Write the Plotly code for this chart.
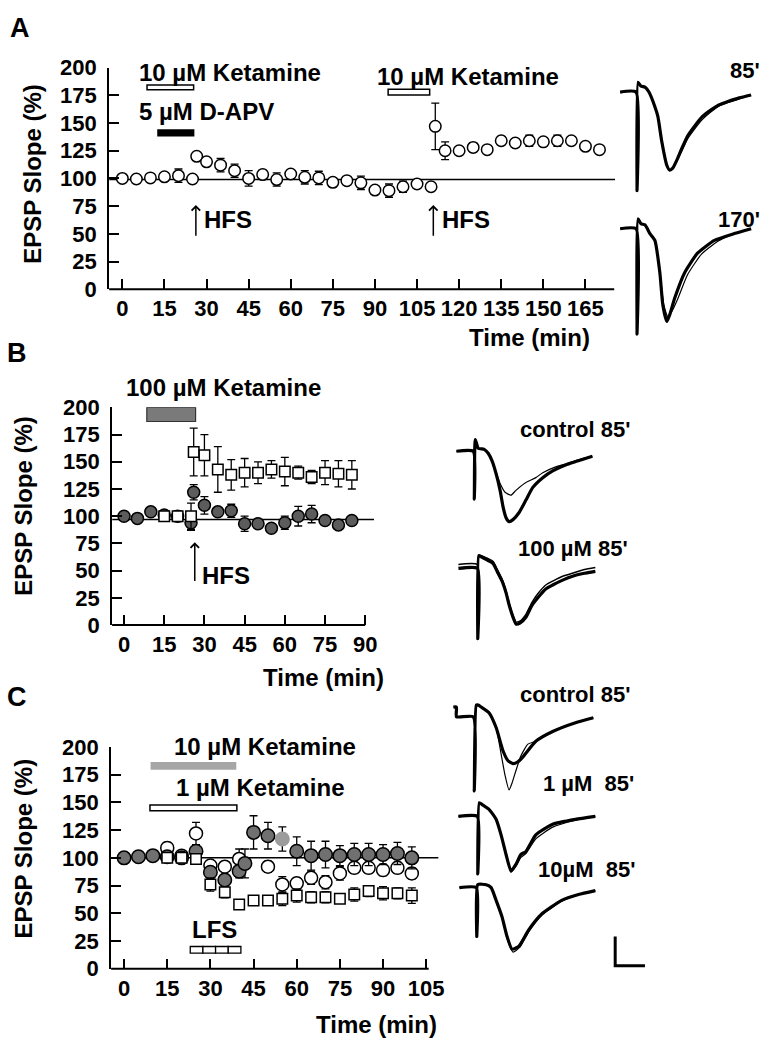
import plotly.graph_objects as go

W, H = 774, 1050
FONT = "Liberation Sans, Arial, sans-serif"

# ---------------- data: panel A ----------------
A_time = [0, 5, 10, 15, 20, 25, 26.5, 30, 35, 40, 45, 50, 55, 60, 65, 70, 75, 80, 85, 90, 95, 100, 105, 110,
          111.5, 115, 120, 125, 130, 135, 140, 145, 150, 155, 160, 165, 170]
A_epsp = [100, 99.5, 100.5, 101.5, 102.5, 99.5, 120, 115, 112, 107, 100, 103.5, 99, 104, 101, 100.5, 96.5, 98, 96,
          89.5, 89, 92.5, 95, 92.5, 147, 125, 125, 128, 126, 134, 132, 134, 133, 134, 134, 129, 126]
A_err = [1, 1, 1, 1, 6, 1, 2, 2, 6, 6, 7, 4, 6, 2, 6, 6, 4, 2, 6, 2, 6, 5, 2, 2,
         21, 8, 2, 4, 2, 4, 2, 5, 2, 5, 2, 2, 2]
A_baseline = 99

# ---------------- data: panel B ----------------
B_ket_time = [0, 5, 10, 15, 20, 25, 26, 30, 35, 40, 45, 50, 55, 60, 65, 70, 75, 80, 85]
B_ket = [100, 98, 104, 101, 100, 94, 122, 110, 104, 105, 93, 93, 89, 94, 100, 102, 96, 92, 96]
B_ket_err = [2, 2, 2, 2, 2, 7, 7, 8, 2, 6, 7, 2, 2, 6, 9, 8, 2, 2, 2]
B_ctl_time = [15, 20, 25, 26, 30, 35, 40, 45, 50, 55, 60, 65, 70, 75, 80, 85]
B_ctl = [100, 100, 100, 159, 156, 143, 138, 140, 140, 143, 141, 140, 136, 140, 139, 138]
B_ctl_err = [3, 5, 12, 22, 19, 21, 14, 13, 10, 8, 13, 6, 6, 11, 12, 13]
B_baseline = 97

# ---------------- data: panel C ----------------
C_k10_time = [0, 5, 10, 15, 20, 25, 30, 35, 40, 42, 45, 50, 55, 60, 65, 70, 75, 80, 85, 90, 95, 100]
C_k10 = [100, 101, 102, 101, 100, 106, 87, 80, 88, 95, 123, 120, 117, 106, 102, 103, 102, 103, 103, 103, 104, 100]
C_k10_err = [1, 1, 1, 1, 1, 4, 5, 5, 6, 13, 15, 12, 11, 13, 13, 12, 9, 10, 10, 9, 10, 10]
C_k1_time = [15, 20, 25, 30, 35, 40, 50, 55, 60, 65, 70, 75, 80, 85, 90, 95, 100]
C_k1 = [109, 102, 122, 93, 92, 99, 92, 76, 77, 82, 78, 86, 91, 91, 89, 91, 86]
C_k1_err = [5, 2, 10, 3, 3, 9, 5, 7, 5, 6, 6, 6, 5, 5, 5, 5, 5]
C_ctl_time = [15, 20, 25, 30, 35, 40, 45, 50, 55, 60, 65, 70, 75, 80, 85, 90, 95, 100]
C_ctl = [100, 100, 99, 76, 69, 58, 61.5, 61.5, 63, 66, 64.5, 64.5, 63, 67, 70, 68, 68, 66]
C_ctl_err = [3, 3, 4, 6, 5, 4, 2, 2, 6, 6, 5, 5, 4, 6, 5, 6, 5, 7]
C_baseline = 100

x_ticks_A = list(range(0, 166, 15))
x_ticks_B = list(range(0, 91, 15))
x_ticks_C = list(range(0, 106, 15))
y_ticks = list(range(0, 201, 25))

# ---------------- waveform data (arbitrary units) ----------------
wA85_t = [0, 16, 17, 18, 21, 25, 29, 35, 38, 42, 47, 50, 53, 57, 62, 68, 75, 83, 92, 100, 108, 120, 132]
wA85_thick = [0, 0, -101, 10, 6, 5, 0, -15, -25, -51, -75, -80, -78, -70, -58, -45, -35, -25, -18, -13, -10, -6, -3]
wA85_thin = [0, 0, -101, 10, 6, 5, 0, -15, -25, -51, -75, -80, -78, -71, -61, -48, -38, -28, -20, -14, -11, -7, -3]

wA170_t1 = [0, 16, 17, 18, 21, 25, 30, 35, 40, 43, 47, 50, 55, 65, 78, 95, 115, 132]
wA170_thick = [0, 0, -108, 10, 5, 4, -5, -12, -45, -78, -95, -88, -71, -45, -25, -12, -5, 0]
wA170_t2 = [0, 16, 17, 18, 21, 25, 30, 35, 40, 44, 48, 52, 58, 68, 82, 98, 115, 132]
wA170_thin = [0, 0, -108, 10, 5, 4, -5, -12, -45, -78, -90, -85, -72, -47, -26, -13, -5, 0]

wBc_t1 = [0, 17, 18, 19, 22, 28, 32, 36, 40, 44, 47, 50, 53, 57, 63, 70, 77, 87, 97, 110, 122, 137]
wBc_thick = [0, 0, -49, 12, 3, 2, -2, -10, -23, -40, -57, -68, -72, -70, -63, -50, -37, -27, -20, -14, -10, -5]
wBc_t2 = [0, 17, 18, 19, 22, 28, 32, 36, 40, 44, 49, 55, 60, 70, 80, 87, 100, 110, 122, 137]
wBc_thin = [0, 0, -49, 12, 3, 2, -2, -10, -22, -33, -42, -45, -40, -32, -27, -22, -16, -13, -9, -5]

wB100_t = [0, 19, 19.5, 20.5, 23, 30, 35, 40, 44, 48, 51, 55, 58, 62, 68, 74, 80, 88, 95, 105, 115, 127, 138]
wB100_thick = [0, 0, -72, 13, 12, 8, 5, -5, -13, -25, -37, -50, -57, -56, -50, -38, -30, -21, -17, -12, -8, -5, -3]
wB100_thin = [4, 4, -72, 14, 13, 10, 7, -3, -11, -23, -35, -48, -55, -54, -47, -35, -26, -17, -13, -8, -5, -1, 1]

wCc_t1 = [-3, 0, 0, 17, 18, 20, 22, 25, 33, 40, 47, 52, 57, 62, 67, 80, 97, 120, 138]
wCc_thick = [10, 10, 0, 0, -76, 12, 12, 10, 4, -11, -35, -45, -48, -46, -41, -25, -15, -6, -1]
wCc_t2 = [-3, 0, 0, 17, 18, 20, 22, 25, 33, 40, 45, 49, 53, 56, 60, 65, 72, 80, 97, 120, 138]
wCc_thin = [10, 10, 0, 0, -76, 12, 12, 10, 4, -11, -38, -60, -75, -68, -55, -40, -28, -25, -15, -6, -1]

wC1_t = [0, 19, 19.5, 21, 24, 31, 38, 43, 48, 53, 58, 63, 68, 78, 95, 118, 138]
wC1_thick = [0, 0, -59, 14, 12, 7, -3, -19, -39, -56, -49, -39, -36, -19, -8, -3, 0]
wC1_thin = [0, 0, -59, 14, 12, 7, -3, -19, -39, -57, -51, -42, -38, -23, -11, -4, 0]

wC10_t1 = [0, 17, 17.5, 18.5, 27, 32, 37, 43, 48, 53, 60, 70, 83, 103, 120, 137]
wC10_thick = [0, 0, -50, 3, 3, 0, -13, -30, -50, -63, -60, -43, -27, -13, -7, -3]
wC10_t2 = [0, 17, 17.5, 18.5, 27, 32, 37, 43, 48, 54, 61, 70, 83, 103, 120, 137]
wC10_thin = [0, 0, -50, 3, 3, 0, -13, -30, -52, -66, -61, -45, -28, -14, -7, -3]

scale_x = [157, 157, 187]
scale_y = [-50, -80, -80]

# ---------------- layout helpers ----------------
def px_x(p):
    return p / W


def px_y(p):
    return 1 - p / H


tickfont = dict(family=FONT, size=22, color="black", weight="bold")
lab_font = dict(family=FONT, size=24, color="black", weight="bold")
trace_font = dict(family=FONT, size=22, color="black", weight="bold")

layout = dict(
    width=W, height=H, margin=dict(l=0, r=0, t=0, b=0),
    paper_bgcolor="white", plot_bgcolor="rgba(0,0,0,0)", showlegend=False,
    font=dict(family=FONT, color="black"),
)

# main panels: (suffix, x pixel domain, y pixel domain, x range, ticks, axis line end)
panels = [
    ("", (110, 620), (57, 284), (-4.7, 175.6), x_ticks_A, 619),
    ("2", (113, 377), (405, 628), (-4.44, 93.3), x_ticks_B, 368),
    ("3", (112, 442), (753, 980), (-4.5, 109.3), x_ticks_C, 432),
]
shapes = []
for suf, (xa, xb), (yt, yb), xr, xt, xend in panels:
    layout["xaxis" + suf] = dict(
        domain=[px_x(xa), px_x(xb)], range=list(xr), anchor="y" + suf,
        showline=False, ticks="inside", ticklen=10, tickwidth=2, tickcolor="black",
        tickvals=xt, tickfont=tickfont, showgrid=False, zeroline=False,
        ticklabelstandoff=4, fixedrange=True,
    )
    layout["yaxis" + suf] = dict(
        domain=[px_y(yb), px_y(yt)], range=[0, 200], anchor="x" + suf,
        showline=True, linewidth=2, linecolor="black", ticks="inside", ticklen=10,
        tickwidth=2, tickcolor="black", tickvals=y_ticks, tickfont=tickfont,
        showgrid=False, zeroline=False, ticklabelstandoff=6, fixedrange=True,
    )
    shapes.append(dict(type="line", xref="paper", yref="paper", x0=px_x(xa), x1=px_x(xend),
                       y0=px_y(yb), y1=px_y(yb), line=dict(color="black", width=2)))

# baselines
for suf, (xa, xb), (yt, yb), xr, xt, xend in panels:
    base = {"": A_baseline, "2": B_baseline, "3": C_baseline}[suf]
    shapes.append(dict(type="line", xref="x" + suf, yref="y" + suf, x0=xr[0], x1=xr[1], y0=base, y1=base,
                       line=dict(color="black", width=1.5), layer="below"))

# drug bars
def rect(suf, x0, x1, y0, y1, fill, lw=1.5, lc="black"):
    shapes.append(dict(type="rect", xref="x" + suf, yref="y" + suf, x0=x0, x1=x1, y0=y0, y1=y1,
                       fillcolor=fill, line=dict(color=lc, width=lw)))

rect("", 8.8, 25.4, 180, 184.3, "white")
rect("", 12.7, 25.4, 138.5, 143.7, "black")
rect("", 94.7, 109.5, 175.3, 180.5, "white")
rect("2", 8.5, 26.7, 187, 200, "#7a7a7a", lw=1.2, lc="#333333")
rect("3", 9.2, 39.0, 179.5, 186.5, "#a6a6a6", lw=0, lc="#a6a6a6")
rect("3", 9.0, 39.2, 142.5, 147.8, "white")
lfs_edges = [23, 27.4, 31.8, 36.2, 40.6]
for a, b in zip(lfs_edges[:-1], lfs_edges[1:]):
    rect("3", a, b, 14, 20, "white", lw=1.3)

# insets for waveforms
insets = [
    (4, 625, 82, -8, 145, -115, 20),
    (5, 625, 222, -8, 145, -115, 20),
    (6, 460, 450, -8, 145, -80, 20),
    (7, 462, 570, -8, 145, -80, 20),
    (8, 460, 722, -8, 145, -85, 20),
    (9, 462, 824, -8, 145, -70, 20),
    (10, 463, 897, -8, 195, -90, 20),
]
for idx, ox, oy, xlo, xhi, ylo, yhi in insets:
    layout[f"xaxis{idx}"] = dict(domain=[(ox + xlo) / W, (ox + xhi) / W], range=[xlo, xhi],
                                 visible=False, anchor=f"y{idx}", fixedrange=True)
    layout[f"yaxis{idx}"] = dict(domain=[1 - (oy - ylo) / H, 1 - (oy - yhi) / H], range=[ylo, yhi],
                                 visible=False, anchor=f"x{idx}", fixedrange=True)

layout["shapes"] = shapes

# ---------------- annotations ----------------
ann = []

def text(x, y, s, xref, yref, font=lab_font, xanchor="left", yanchor="middle", angle=0):
    ann.append(dict(x=x, y=y, text=s, xref=xref, yref=yref, showarrow=False, font=font,
                    xanchor=xanchor, yanchor=yanchor, textangle=angle))

def arrow(suf, t, ytip, ybase):
    ann.append(dict(x=t, y=ytip, ax=t, ay=ybase, xref="x" + suf, yref="y" + suf,
                    axref="x" + suf, ayref="y" + suf, text="", showarrow=True,
                    arrowhead=4, arrowsize=1.1, arrowwidth=1.5, arrowcolor="black", standoff=0))

letter_font = dict(family=FONT, size=27, color="black", weight="bold")
text(px_x(8), px_y(16), "A", "paper", "paper", font=letter_font)
text(px_x(5), px_y(349), "B", "paper", "paper", font=letter_font)
text(px_x(5), px_y(702), "C", "paper", "paper", font=letter_font)

for xc, yc in [(32, 166), (24, 506), (24, 857)]:
    text(px_x(xc), px_y(yc), "EPSP Slope (%)", "paper", "paper", xanchor="center", angle=-90)

for xr_, yc in [(597, 333), (389, 682), (442, 1037)]:
    text(px_x(xr_), px_y(yc), "Time (min)", "paper", "paper", xanchor="right")

# panel A labels
text(5.3, 195.6, "10 µM Ketamine", "x", "y")
text(5.3, 160.5, "5 µM D-APV", "x", "y")
text(90.1, 192, "10 µM Ketamine", "x", "y")
arrow("", 26.2, 76, 47)
text(28.5, 62.5, "HFS", "x", "y")
arrow("", 110.8, 76, 47)
text(113.2, 62.5, "HFS", "x", "y")

# panel B labels
text(px_x(125), px_y(385), "100 µM Ketamine", "paper", "paper")
arrow("2", 26.4, 76, 39)
text(28.5, 45.5, "HFS", "x2", "y2")

# panel C labels
text(px_x(173), px_y(752), "10 µM Ketamine", "paper", "paper")
text(17.2, 163.6, "1 µM Ketamine", "x3", "y3")
text(23, 35, "LFS", "x3", "y3")

# trace labels
text(px_x(768), px_y(60), "85'", "paper", "paper", font=trace_font, xanchor="right")
text(px_x(768), px_y(213), "170'", "paper", "paper", font=trace_font, xanchor="right")
text(px_x(637), px_y(428), "control 85'", "paper", "paper", font=trace_font, xanchor="right")
text(px_x(520), px_y(550), "100 µM 85'", "paper", "paper", font=trace_font)
text(px_x(637), px_y(699), "control 85'", "paper", "paper", font=trace_font, xanchor="right")
text(px_x(545), px_y(790), "1 µM\u00a0\u00a085'", "paper", "paper", font=trace_font)
text(px_x(540), px_y(878), "10µM\u00a0\u00a085'", "paper", "paper", font=trace_font)

layout["annotations"] = ann

# ---------------- traces ----------------
fig = go.Figure(layout=layout)

def errs(arr):
    return dict(type="data", array=arr, color="black", thickness=1.3, width=4)

def series(x, y, e, suf, symbol, fill, size):
    fig.add_trace(go.Scatter(x=x, y=y, mode="markers", xaxis="x" + suf, yaxis="y" + suf,
                             error_y=errs(e), cliponaxis=False,
                             marker=dict(symbol=symbol, size=size, color=fill,
                                         line=dict(color="black", width=1.5))))

series(A_time, A_epsp, A_err, "", "circle", "white", 11.5)

series(B_ket_time, B_ket, B_ket_err, "2", "circle", "#5c5c5c", 12)
series(B_ctl_time, B_ctl, B_ctl_err, "2", "square", "white", 10.5)

series(C_k1_time, C_k1, C_k1_err, "3", "circle", "white", 13)
k10_colors = ["#9c9c9c" if t == 55 else "#707070" for t in C_k10_time]
fig.add_trace(go.Scatter(x=C_k10_time, y=C_k10, mode="markers", xaxis="x3", yaxis="y3",
                         error_y=errs(C_k10_err), cliponaxis=False,
                         marker=dict(symbol="circle", size=13.5, color=k10_colors,
                                     line=dict(color=["#9c9c9c" if t == 55 else "black" for t in C_k10_time],
                                               width=1.5))))
series(C_ctl_time, C_ctl, C_ctl_err, "3", "square", "white", 10.5)

def wave(t, v, idx, width):
    fig.add_trace(go.Scatter(x=t, y=v, mode="lines", xaxis=f"x{idx}", yaxis=f"y{idx}",
                             line=dict(color="black", width=width, shape="spline", smoothing=0.5),
                             hoverinfo="skip"))

wave(wA85_t, wA85_thick, 4, 3.2)
wave(wA85_t, wA85_thin, 4, 1.2)
wave(wA170_t1, wA170_thick, 5, 3.2)
wave(wA170_t2, wA170_thin, 5, 1.2)
wave(wBc_t1, wBc_thick, 6, 3.2)
wave(wBc_t2, wBc_thin, 6, 1.2)
wave(wB100_t, wB100_thick, 7, 3.2)
wave(wB100_t, wB100_thin, 7, 1.5)
wave(wCc_t1, wCc_thick, 8, 3.2)
wave(wCc_t2, wCc_thin, 8, 1.2)
wave(wC1_t, wC1_thick, 9, 3.2)
wave(wC1_t, wC1_thin, 9, 1.2)
wave(wC10_t1, wC10_thick, 10, 3.2)
wave(wC10_t2, wC10_thin, 10, 1.2)
fig.add_trace(go.Scatter(x=scale_x, y=scale_y, mode="lines", xaxis="x10", yaxis="y10",
                         line=dict(color="black", width=3), hoverinfo="skip"))

fig.write_html("out.html", post_script="document.body.style.margin='0';",
               config={"displayModeBar": False})
